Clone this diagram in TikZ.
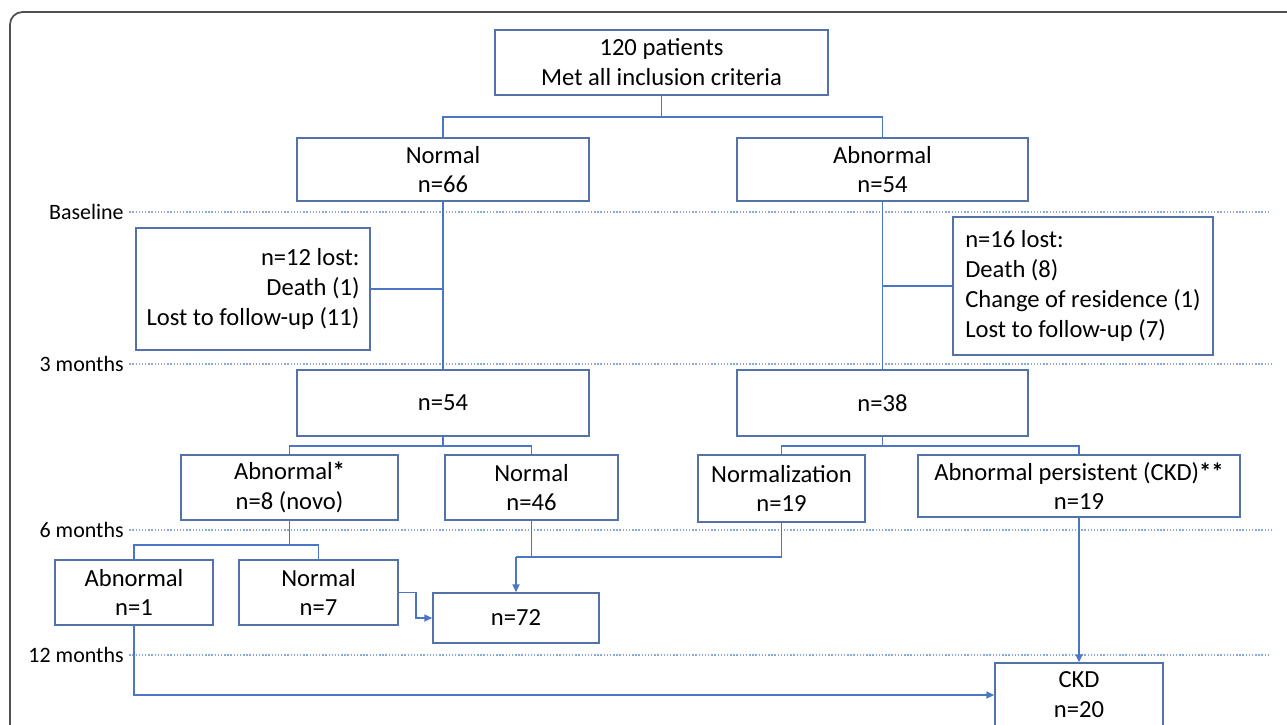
\documentclass[tikz,border=0pt]{standalone}
\usepackage{fontspec}
\setmainfont{Carlito}
\usetikzlibrary{arrows.meta}
\definecolor{boxblue}{RGB}{84,114,170}
\definecolor{linkblue}{RGB}{75,118,200}
\definecolor{timeblue}{RGB}{140,168,218}
\definecolor{framegray}{RGB}{80,80,80}
\begin{document}
\begin{tikzpicture}[x=0.02cm,y=-0.02cm,
    flowbox/.style={draw=boxblue,line width=0.9pt,align=center,inner sep=0pt,
        font=\fontsize{14}{17}\selectfont},
    sz/.style 2 args={minimum width=#1*0.02cm,minimum height=#2*0.02cm},
    link/.style={draw=linkblue,line width=0.9pt},
    linkarrow/.style={link,-{Triangle[length=4.5pt,width=4pt]}},
    timeline/.style={draw=timeblue,line width=0.8pt,densely dotted},
    timelabel/.style={anchor=east,inner sep=0pt,font=\fontsize{12.5}{14}\selectfont}]
    \useasboundingbox (0,0) rectangle (1287,724);
    \clip (0,0) rectangle (1287,724);
    \draw[framegray,line width=1pt,rounded corners=0.25cm] (10,12) rectangle (1320,770);

    % time marks
\foreach \y/\t/\n/\e in
{212/Baseline/tBase/1268,
    364/3 months/tThree/1273,
    530/6 months/tSix/1273,
    655/12 months/tTwelve/1270
}
{
    \node[timelabel] (\n) at (124,\y) {\t};
    \draw[timeline] ([xshift=3pt]\n.east) -- (\e,\y);
};

    % boxes
    \node[flowbox,sz={333}{65}] (top) at (661.5,62.5) {120 patients\\Met all inclusion criteria};
    \node[flowbox,sz={292}{63}] (norm) at (443,169.5) {Normal\\n=66};
    \node[flowbox,sz={291}{63}] (abn) at (882.5,169.5) {Abnormal\\n=54};
    \node[flowbox,sz={234}{122},align=right] (lostL) at (253,289) {n=12 lost:\\Death (1)\\Lost to follow-up (11)};
    \node[flowbox,sz={260}{138},align=left] (lostR) at (1083,286) {n=16 lost:\\Death (8)\\Change of residence (1)\\Lost to follow-up (7)};
    \node[flowbox,sz={292}{66}] (nFiftyFour) at (443,403) {n=54};
    \node[flowbox,sz={291}{66}] (nThirtyEight) at (882.5,403) {n=38};
    \node[flowbox,sz={217}{65}] (abnNovo) at (289.5,487.5) {Abnormal\textbf{*}\\n=8 (novo)};
    \node[flowbox,sz={173}{65}] (normSix) at (531.5,487.5) {Normal\\n=46};
    \node[flowbox,sz={167}{67}] (normz) at (781.5,488.5) {Normalization\\n=19};
    \node[flowbox,sz={322}{62}] (persist) at (1079,486) {Abnormal persistent (CKD)\textbf{**}\\n=19};
    \node[flowbox,sz={158}{65}] (abnOne) at (134,592.5) {Abnormal\\n=1};
    \node[flowbox,sz={159}{65}] (normSeven) at (318.5,592.5) {Normal\\n=7};
    \node[flowbox,sz={166}{50}] (nSeventyTwo) at (516,618) {n=72};
    \node[flowbox,sz={168}{64}] (ckd) at (1079,695) {CKD\\n=20};

    % splits
    \coordinate (sTop) at (661.5,117);
    \draw[link] (top.south) -- (sTop);
    \draw[link] (norm.north) |- (sTop) -| (abn.north);
    \draw[link] (norm.south) -- (nFiftyFour.north);
    \draw[link] (abn.south) -- (nThirtyEight.north);
    \draw[link] (lostL.east) -- (lostL.east -| norm.south);
    \draw[link] (lostR.west) -- (lostR.west -| abn.south);

    \coordinate (sLeft) at (443,446);
    \draw[link] (nFiftyFour.south) -- (sLeft);
    \draw[link] (abnNovo.north) |- (sLeft) -| (normSix.north);
    \coordinate (sRight) at (882.5,446);
    \draw[link] (nThirtyEight.south) -- (sRight);
    \draw[link] (normz.north) |- (sRight) -| (persist.north);

    \coordinate (sNovo) at (289.5,545);
    \draw[link] (abnNovo.south) -- (sNovo);
    \draw[link] (abnOne.north) |- (sNovo) -| (normSeven.north);

    % merges
    \coordinate (mNormal) at (516,557);
    \draw[link] (normSix.south) -- (normSix.south |- mNormal);
    \draw[link] (normz.south) |- (mNormal);
    \draw[linkarrow] (mNormal) -- (nSeventyTwo.north);
    \draw[linkarrow] (normSeven.east) -- ++(17,0) |- (nSeventyTwo.west);
    \draw[linkarrow] (abnOne.south) |- (ckd.west);
    \draw[linkarrow] (persist.south) -- (ckd.north);
\end{tikzpicture}
\end{document}
